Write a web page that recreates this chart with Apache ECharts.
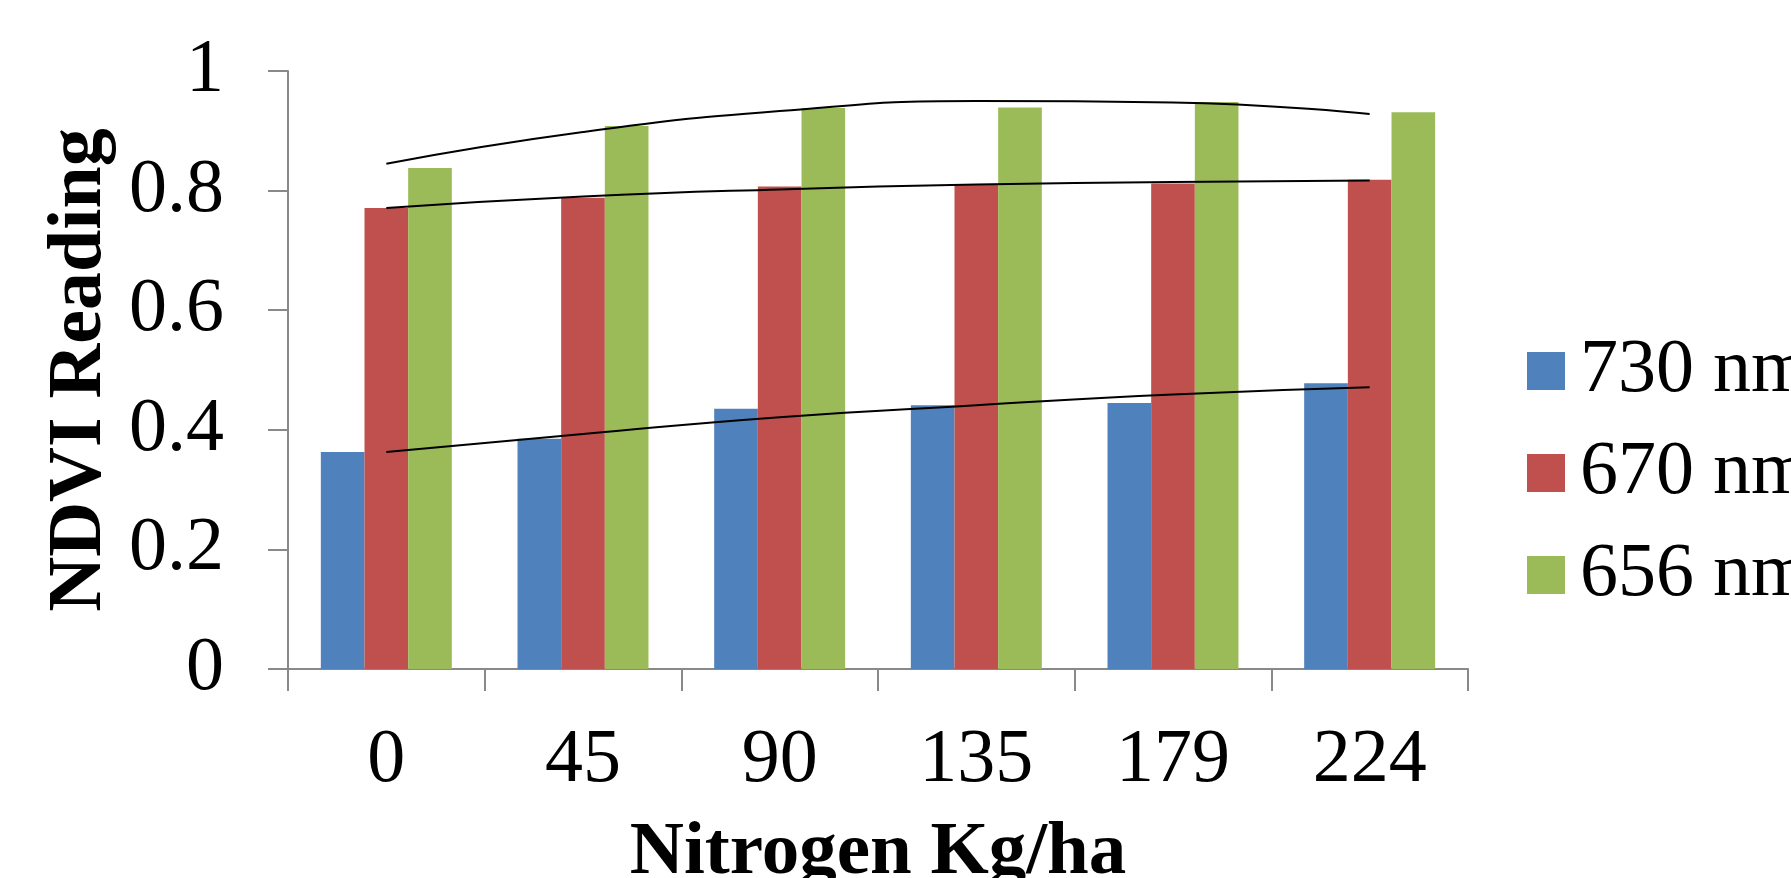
<!DOCTYPE html>
<html>
<head>
<meta charset="utf-8">
<script src="https://cdn.jsdelivr.net/npm/echarts@6/dist/echarts.min.js"></script>
<style>
html,body{margin:0;padding:0;background:#fff;}
#chart{width:1791px;height:878px;}
</style>
</head>
<body>
<div id="chart"></div>
<script>
const categories = ['0', '45', '90', '135', '179', '224'];
const seriesNames = ['730 nm', '670 nm', '656 nm'];
const values730 = [0.363, 0.385, 0.435, 0.441, 0.445, 0.478];
const values670 = [0.771, 0.788, 0.807, 0.810, 0.812, 0.818];
const values656 = [0.838, 0.908, 0.938, 0.939, 0.948, 0.931];
// trendline values at each category centre
const trend730 = [0.363, 0.393, 0.421, 0.441, 0.459, 0.471];
const trend670 = [0.771, 0.790, 0.802, 0.810, 0.8145, 0.817];
const trend656 = [0.845, 0.898, 0.933, 0.950, 0.9475, 0.928];
const yTicks = {min: 0, max: 1, interval: 0.2};

const FONT = '"Liberation Serif", "Times New Roman", serif';
const colors = ['#4F81BD', '#C0504D', '#9BBB59'];
const axisGray = '#898989';

const chart = echarts.init(document.getElementById('chart'));

function barSeries(name, data, color) {
  return {
    name: name, type: 'bar', data: data,
    barGap: '0%', barCategoryGap: '33.4%',
    itemStyle: {color: color},
    emphasis: {disabled: true}
  };
}
function trendSeries(name, data) {
  return {
    name: name, type: 'line', data: data, smooth: true,
    symbol: 'none', silent: true,
    lineStyle: {color: '#000', width: 2},
    emphasis: {disabled: true}, z: 5
  };
}

chart.setOption({
  animation: false,
  backgroundColor: '#fff',
  grid: {left: 288, top: 71, right: 323, bottom: 209, containLabel: false, outerBoundsMode: 'none'},
  legend: {
    orient: 'vertical', left: 1522, top: 328,
    data: seriesNames,
    itemWidth: 38, itemHeight: 38, itemGap: 26,
    icon: 'rect',
    textStyle: {fontFamily: FONT, fontSize: 76, color: '#000', padding: [0, 0, 0, 10]},
    itemStyle: {borderWidth: 0}
  },
  xAxis: {
    type: 'category', data: categories,
    boundaryGap: true,
    axisLine: {lineStyle: {color: axisGray, width: 2}},
    axisTick: {show: true, length: 22, lineStyle: {color: axisGray, width: 2}},
    axisLabel: {fontFamily: FONT, fontSize: 76, color: '#000', margin: 92, verticalAlign: 'middle'},
    name: 'Nitrogen Kg/ha', nameLocation: 'middle', nameGap: 185,
    nameTextStyle: {fontFamily: FONT, fontSize: 75, fontWeight: 'bold', color: '#000', verticalAlign: 'middle'}
  },
  yAxis: {
    type: 'value', min: yTicks.min, max: yTicks.max, interval: yTicks.interval,
    splitLine: {show: false},
    axisLine: {show: true, lineStyle: {color: axisGray, width: 2}},
    axisTick: {show: true, length: 20, lineStyle: {color: axisGray, width: 2}},
    axisLabel: {fontFamily: FONT, fontSize: 76, color: '#000', margin: 64},
    name: 'NDVI Reading', nameLocation: 'middle', nameGap: 198, nameRotate: 90,
    nameTextStyle: {fontFamily: FONT, fontSize: 76, fontWeight: 'bold', color: '#000', verticalAlign: 'middle'}
  },
  series: [
    barSeries(seriesNames[0], values730, colors[0]),
    barSeries(seriesNames[1], values670, colors[1]),
    barSeries(seriesNames[2], values656, colors[2]),
    trendSeries('trend730', trend730),
    trendSeries('trend670', trend670),
    trendSeries('trend656', trend656)
  ]
});
</script>
</body>
</html>
